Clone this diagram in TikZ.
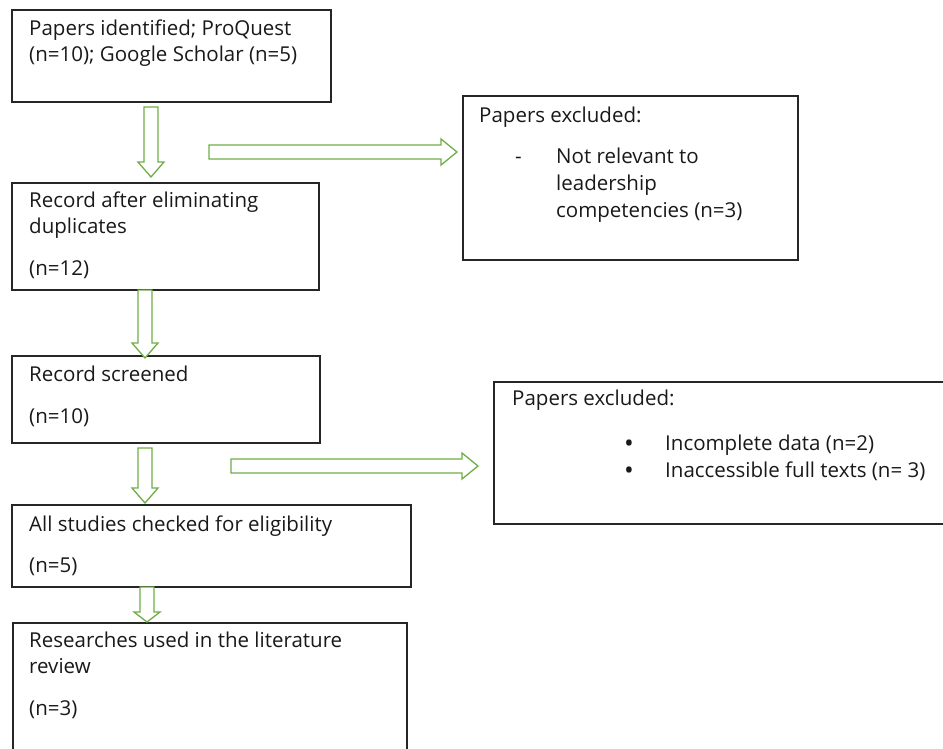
\documentclass[tikz,border=0pt]{standalone}
\usepackage{fontspec}
\setmainfont{Open Sans}
\usetikzlibrary{calc}

\definecolor{arrowgreen}{RGB}{112,173,71}

\tikzset{
    box/.style = {draw = black!85, line width = 1.1pt, anchor = north west, inner sep = 0pt, outer sep = 0pt},
    txt/.style = {anchor = base west, inner sep = 0pt, font = \fontsize{20.5}{26}\selectfont, text = black!90},
    greenarrow/.style = {draw = arrowgreen, fill = white, line width = 1.3pt, line join = miter}
}

\newcommand{\downblock}[3][15]{%
    \draw [greenarrow] let \p1 = (#2), \p2 = (#3) in
        (\x1-7pt,\y1) -- (\x1-7pt,\y2+#1pt) -- (\x1-13pt,\y2+#1pt) -- (\x1,\y2)
        -- (\x1+13pt,\y2+#1pt) -- (\x1+7pt,\y2+#1pt) -- (\x1+7pt,\y1) -- cycle;}
\newcommand{\rightblock}[2]{%
    \draw [greenarrow] let \p1 = (#1), \p2 = (#2) in
        (\x1,\y1+7pt) -- (\x2-16pt,\y1+7pt) -- (\x2-16pt,\y1+13pt) -- (\x2,\y1)
        -- (\x2-16pt,\y1-13pt) -- (\x2-16pt,\y1-7pt) -- (\x1,\y1-7pt) -- cycle;}

\begin{document}
\begin{tikzpicture}[x=1pt, y=-1pt]
    \useasboundingbox (0,0) rectangle (943,748);
    \clip (0,0) rectangle (943,748);

    \node [box, minimum width = 319pt, minimum height = 92pt] (ident) at (12,10) {};
    \node [box, minimum width = 307pt, minimum height = 107pt] (dupl) at (12,183) {};
    \node [box, minimum width = 308pt, minimum height = 87pt] (screen) at (12,356) {};
    \node [box, minimum width = 399pt, minimum height = 82pt] (elig) at (12,505) {};
    \node [box, minimum width = 394pt, minimum height = 150pt] (used) at (13,623) {};
    \node [box, minimum width = 335pt, minimum height = 164pt] (excl1) at (463,96) {};
    \node [box, minimum width = 460pt, minimum height = 142pt] (excl2) at (494,382) {};

    \node [txt] (ident1) at (29,35) {Papers identified; ProQuest};
    \node [txt] (ident2) at (29,61) {(n=10); Google Scholar (n=5)};

    \node [txt] (dupl1) at (29,207) {Record after eliminating};
    \node [txt] (dupl2) at (29,233) {duplicates};
    \node [txt] (dupl3) at (29,275) {(n=12)};

    \node [txt] (screen1) at (29,381) {Record screened};
    \node [txt] (screen2) at (29,423) {(n=10)};

    \node [txt] (elig1) at (29,531) {All studies checked for eligibility};
    \node [txt] (elig2) at (29,572) {(n=5)};

    \node [txt] (used1) at (29,647) {Researches used in the literature};
    \node [txt] (used2) at (29,673) {review};
    \node [txt] (used3) at (29,715) {(n=3)};

    \node [txt] (excl1a) at (479,122) {Papers excluded:};
    \node [txt] (dash) at (515,163) {-};
    \node [txt] (excl1b) at (556,163) {Not relevant to};
    \node [txt] (excl1c) at (556,190) {leadership};
    \node [txt] (excl1d) at (556,217) {competencies (n=3)};

    \node [txt] (excl2a) at (512,405) {Papers excluded:};
    \node [txt, font = \fontsize{26}{26}\selectfont] (bulA) at (624,452) {•};
    \node [txt] (excl2b) at (665,450) {Incomplete data (n=2)};
    \node [txt, font = \fontsize{26}{26}\selectfont] (bulB) at (624,479) {•};
    \node [txt] (excl2c) at (665,477) {Inaccessible full texts (n= 3)};

    \coordinate (d1s) at ($(ident.south west)+(139,5)$);
    \coordinate (d1e) at ($(dupl.north west)+(139,-6)$);
    \coordinate (d2s) at ($(dupl.south west)+(133,0)$);
    \coordinate (d2e) at ($(screen.north west)+(133,2)$);
    \coordinate (d3s) at ($(screen.south west)+(133,5)$);
    \coordinate (d3e) at ($(elig.north west)+(133,-2)$);
    \coordinate (d4s) at ($(elig.south west)+(135,0)$);
    \coordinate (d4e) at ($(used.north west)+(134,-1)$);
    \coordinate (h1s) at ($(ident.south west)+(197,50)$);
    \coordinate (h1e) at ($(excl1.north west)+(-6,56)$);
    \coordinate (h2s) at ($(screen.south west)+(219,23)$);
    \coordinate (h2e) at ($(excl2.north west)+(-16,84)$);

    \downblock{d1s}{d1e}
    \downblock{d2s}{d2e}
    \downblock{d3s}{d3e}
    \downblock[10]{d4s}{d4e}
    \rightblock{h1s}{h1e}
    \rightblock{h2s}{h2e}

\end{tikzpicture}
\end{document}
